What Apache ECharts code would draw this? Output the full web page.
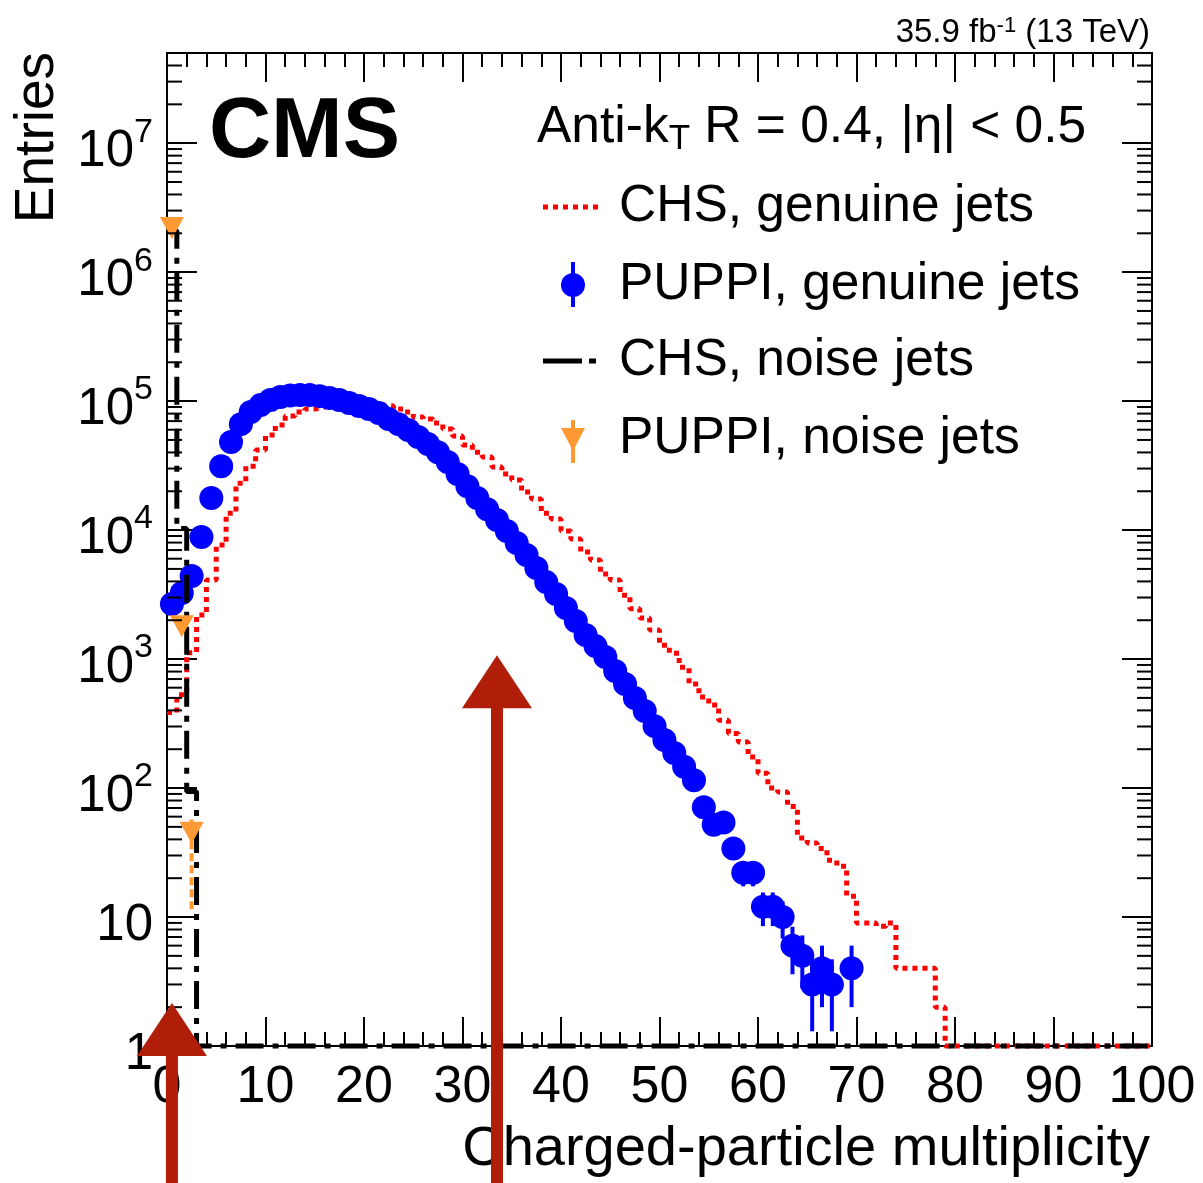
<!DOCTYPE html>
<html><head><meta charset="utf-8">
<script src="https://cdn.jsdelivr.net/npm/echarts@6/dist/echarts.min.js"></script>
<style>html,body{margin:0;padding:0;background:#fff}#c{width:1203px;height:1183px}</style>
</head><body><div id="c"></div>
<script>
const FONT = '"Liberation Sans", Arial, Helvetica, sans-serif';
const X_MIN = 0, X_MAX = 100, X_INTERVAL = 10;
const Y_MIN = 1, Y_MAX = 5e7;

// CHS, genuine jets (bins of width 1 starting at 0; bins not listed are empty)
const chsGenuine = [385, 530, 1120, 2200, 4100, 7650, 13500, 23100, 31300, 41700,
  54500, 65200, 76500, 82200, 86700, 89800, 93100, 94800, 96500, 96500,
  94800, 93100, 91500, 86700, 82200, 75200, 72500, 67500, 60700, 53600,
  45600, 40200, 36800, 30800, 27200, 24400, 19700, 17400, 13500, 12200,
  9820, 8510, 6750, 5850, 4560, 4100, 3130, 2460, 2080, 1680,
  1280, 1110, 865, 640, 507, 440, 336, 265, 227, 174,
  130, 100, 93, 72, 41, 37.5, 34, 27.6, 24.8, 14.5,
  9, 9, 8.5, 9, 4, 4, 4, 4, 2];

// PUPPI, genuine jets
const puppiGenuine = [2670, 3250, 4400, 8830, 17700, 31300, 48100, 66300, 82200, 93100,
  101800, 107400, 110300, 111300, 111300, 109300, 105500, 101800, 96500, 91500,
  86700, 80700, 72500, 66300, 59600, 52600, 46400, 40200, 33700, 27200,
  21900, 17700, 14500, 11950, 9820, 7930, 6400, 5080, 3950, 3190,
  2490, 1970, 1535, 1260, 1036, 807, 640, 499, 395, 302,
  236, 187, 146, 115, 71, 52, 54, 34, 22, 22,
  12, 12, 10, 6, 5, 3, 4, 3, 0, 4];
const puppiErrBins = [58, 59, 60, 61, 62, 63, 64, 65, 66, 67, 69];
const puppiErrVals = [4.7, 4.7, 3.5, 3.5, 3.2, 2.4, 2.2, 1.7, 2, 1.7, 2];

// CHS, noise jets
const chsNoise = [2100000, 10300, 94];
// PUPPI, noise jets
const puppiNoise = [2200000, 1800, 45];
const puppiNoiseErrLow = [null, null, 11.5];
const puppiNoiseErrHigh = [null, null, 57];

// hand-drawn annotation arrows (x in multiplicity, tip in entries)
const arrowX = [0.5, 33.5];
const arrowTip = [2.15, 1070];

const legendLabels = ['CHS, genuine jets', 'PUPPI, genuine jets', 'CHS, noise jets', 'PUPPI, noise jets'];

const RED = '#ff0000', BLUE = '#0000ff', ORANGE = '#ff9933', ARROW = '#b01e0a';
const LEG_FS = 51.5;

function stepData(vals) {
  const d = [];
  for (let k = X_MIN; k < X_MAX; k++) {
    const v = k < vals.length ? vals[k] : 0;
    d.push([k, v > 0 ? v : Y_MIN]);
  }
  d.push([X_MAX, d[d.length - 1][1]]);
  return d;
}
function pointData(vals) {
  const d = [];
  vals.forEach((v, k) => { if (v > 0) d.push([k + 0.5, v]); });
  return d;
}
const minorTicks = [];
for (let n = 0; n <= 7; n++) for (let m = 2; m <= 9; m++) { const v = m * Math.pow(10, n); if (v < Y_MAX) minorTicks.push([X_MIN, v]); }

function yLabel(v) {
  const e = Math.log10(v), n = Math.round(e);
  if (Math.abs(e - n) > 1e-6) return '';
  if (n === 0) return '{b|1}';
  if (n === 1) return '{b|10}';
  return '{b|10}{s|' + n + '}';
}

const blueErr = puppiErrBins.map((b, i) => [b + 0.5, puppiGenuine[b] - puppiErrVals[i], puppiGenuine[b] + puppiErrVals[i]]);
const orangeErr = [];
puppiNoise.forEach((v, k) => { if (puppiNoiseErrLow[k] != null) orangeErr.push([k + 0.5, puppiNoiseErrLow[k], puppiNoiseErrHigh[k]]); });

const xAxisBase = {
  type: 'value', min: X_MIN, max: X_MAX, interval: X_INTERVAL,
  axisLine: { show: true, onZero: false, lineStyle: { color: '#000', width: 2 } },
  axisTick: { show: true, inside: true, length: 29, lineStyle: { color: '#000', width: 2 } },
  minorTick: { show: true, splitNumber: 5, length: 14, lineStyle: { color: '#000', width: 2 } },
  splitLine: { show: false }, minorSplitLine: { show: false }
};
const yAxisBase = {
  type: 'log', logBase: 10, min: Y_MIN, max: Y_MAX, splitNumber: 8,
  axisLine: { show: true, onZero: false, lineStyle: { color: '#000', width: 2 } },
  axisTick: { show: true, inside: true, length: 30, lineStyle: { color: '#000', width: 2 } },
  splitLine: { show: false }
};

const chart = echarts.init(document.getElementById('c'), null, { renderer: 'canvas' });
chart.setOption({
  animation: false,
  backgroundColor: '#fff',
  grid: { left: 167, right: 51, top: 53, bottom: 137, containLabel: false, outerBoundsMode: 'none' },
  xAxis: [
    Object.assign({}, xAxisBase, { position: 'bottom',
      axisLabel: { show: true, color: '#000', fontSize: 52, fontFamily: FONT, margin: 16, interval: 0, showMinLabel: true, showMaxLabel: true } }),
    Object.assign({}, xAxisBase, { position: 'top', axisLabel: { show: false } })
  ],
  yAxis: [
    Object.assign({}, yAxisBase, { position: 'left',
      axisLabel: { show: true, margin: 14, formatter: yLabel, showMinLabel: true,
        rich: { b: { fontSize: 51, fontFamily: FONT, color: '#000', padding: [18, 0, 0, 0] },
                s: { fontSize: 34, fontFamily: FONT, color: '#000', padding: [0, 0, 22, 0] } } } }),
    Object.assign({}, yAxisBase, { position: 'right', axisLabel: { show: false } })
  ],
  series: [
    { name: legendLabels[0], type: 'line', step: 'end', data: stepData(chsGenuine), symbol: 'none', clip: false, z: 2,
      lineStyle: { color: RED, width: 5, type: [5, 5] } },
    { name: legendLabels[1] + ' err', type: 'custom', data: blueErr, clip: false, z: 3, silent: true,
      renderItem: (p, api) => {
        const a = api.coord([api.value(0), api.value(1)]), b = api.coord([api.value(0), api.value(2)]);
        return { type: 'line', shape: { x1: a[0], y1: a[1], x2: b[0], y2: b[1] }, style: { stroke: BLUE, lineWidth: 4 } };
      } },
    { name: legendLabels[1], type: 'scatter', data: pointData(puppiGenuine), symbol: 'circle', symbolSize: 24, z: 3,
      itemStyle: { color: BLUE, opacity: 1 } },
    { name: legendLabels[2], type: 'line', step: 'end', data: stepData(chsNoise), symbol: 'none', clip: false, z: 4,
      lineStyle: { color: '#000', width: 5, type: [28, 9, 6, 9] } },
    { name: legendLabels[3] + ' err', type: 'custom', data: orangeErr, clip: false, z: 5, silent: true,
      renderItem: (p, api) => {
        const a = api.coord([api.value(0), api.value(1)]), b = api.coord([api.value(0), api.value(2)]);
        return { type: 'line', shape: { x1: a[0], y1: a[1], x2: b[0], y2: b[1] }, style: { stroke: ORANGE, lineWidth: 4, lineDash: [8, 4] } };
      } },
    { name: legendLabels[3], type: 'scatter', data: pointData(puppiNoise), symbol: 'triangle', symbolRotate: 180, symbolSize: [24, 22], z: 5,
      itemStyle: { color: ORANGE, opacity: 1 } },
    { name: 'minor ticks', type: 'custom', data: minorTicks, clip: false, z: 6, silent: true,
      renderItem: (p, api) => {
        const l = api.coord([X_MIN, api.value(1)]), r = api.coord([X_MAX, api.value(1)]);
        return { type: 'group', children: [
          { type: 'line', shape: { x1: l[0], y1: l[1], x2: l[0] + 15, y2: l[1] }, style: { stroke: '#000', lineWidth: 2 } },
          { type: 'line', shape: { x1: r[0] - 15, y1: r[1], x2: r[0], y2: r[1] }, style: { stroke: '#000', lineWidth: 2 } }
        ] };
      } },
    { name: 'arrows', type: 'custom', data: arrowX.map((x, i) => [x, arrowTip[i]]), clip: false, z: 20, silent: true,
      renderItem: (p, api) => {
        const t = api.coord([api.value(0), api.value(1)]);
        const H = api.getHeight(), hw = 35, th = 53, sw = 6;
        return { type: 'group', children: [
          { type: 'rect', shape: { x: t[0] - sw, y: t[1] + th - 4, width: 2 * sw, height: H - (t[1] + th - 4) }, style: { fill: ARROW } },
          { type: 'polygon', shape: { points: [[t[0], t[1]], [t[0] - hw, t[1] + th], [t[0] + hw, t[1] + th]] }, style: { fill: ARROW } }
        ] };
      } }
  ],
  graphic: [
    { type: 'text', x: 1150, y: 33, style: { text: '{a|35.9 fb}{s|-1}{a| (13 TeV)}', align: 'right', verticalAlign: 'middle',
      rich: { a: { fontSize: 33, fontFamily: FONT, fill: '#000' }, s: { fontSize: 22, fontFamily: FONT, fill: '#000', padding: [0, 0, 14, 0] } } } },
    { type: 'text', x: 209, y: 133, style: { text: 'CMS', fontSize: 86, fontWeight: 'bold', fontFamily: FONT, fill: '#000', align: 'left', verticalAlign: 'middle' } },
    { type: 'text', x: 537, y: 128, style: { text: '{a|Anti-k}{t|T}{a| R = 0.4, |η| < 0.5}', align: 'left', verticalAlign: 'middle',
      rich: { a: { fontSize: LEG_FS, fontFamily: FONT, fill: '#000' }, t: { fontSize: 35, fontFamily: FONT, fill: '#000', padding: [22, 0, 0, 0] } } } },
    { type: 'line', shape: { x1: 543, y1: 207, x2: 601, y2: 207 }, style: { stroke: RED, lineWidth: 5, lineDash: [5, 5] } },
    { type: 'text', x: 619, y: 207, style: { text: legendLabels[0], fontSize: LEG_FS, fontFamily: FONT, fill: '#000', align: 'left', verticalAlign: 'middle' } },
    { type: 'line', shape: { x1: 573, y1: 262, x2: 573, y2: 307 }, style: { stroke: BLUE, lineWidth: 4 } },
    { type: 'circle', shape: { cx: 573, cy: 285, r: 12 }, style: { fill: BLUE } },
    { type: 'text', x: 619, y: 285, style: { text: legendLabels[1], fontSize: LEG_FS, fontFamily: FONT, fill: '#000', align: 'left', verticalAlign: 'middle' } },
    { type: 'line', shape: { x1: 543, y1: 361, x2: 582, y2: 361 }, style: { stroke: '#000', lineWidth: 5 } },
    { type: 'line', shape: { x1: 589, y1: 361, x2: 596, y2: 361 }, style: { stroke: '#000', lineWidth: 5 } },
    { type: 'text', x: 619, y: 361, style: { text: legendLabels[2], fontSize: LEG_FS, fontFamily: FONT, fill: '#000', align: 'left', verticalAlign: 'middle' } },
    { type: 'line', shape: { x1: 573, y1: 420, x2: 573, y2: 463 }, style: { stroke: ORANGE, lineWidth: 4 } },
    { type: 'polygon', shape: { points: [[561, 428], [585, 428], [573, 451]] }, style: { fill: ORANGE } },
    { type: 'text', x: 619, y: 439, style: { text: legendLabels[3], fontSize: LEG_FS, fontFamily: FONT, fill: '#000', align: 'left', verticalAlign: 'middle' } },
    { type: 'text', x: 1150, y: 1150, style: { text: 'Charged-particle multiplicity', fontSize: 56, fontFamily: FONT, fill: '#000', align: 'right', verticalAlign: 'middle' } },
    { type: 'text', x: 38, y: 52, rotation: Math.PI / 2, style: { text: 'Entries', fontSize: 55, fontFamily: FONT, fill: '#000', align: 'right', verticalAlign: 'middle' } }
  ]
});
</script>
</body></html>
